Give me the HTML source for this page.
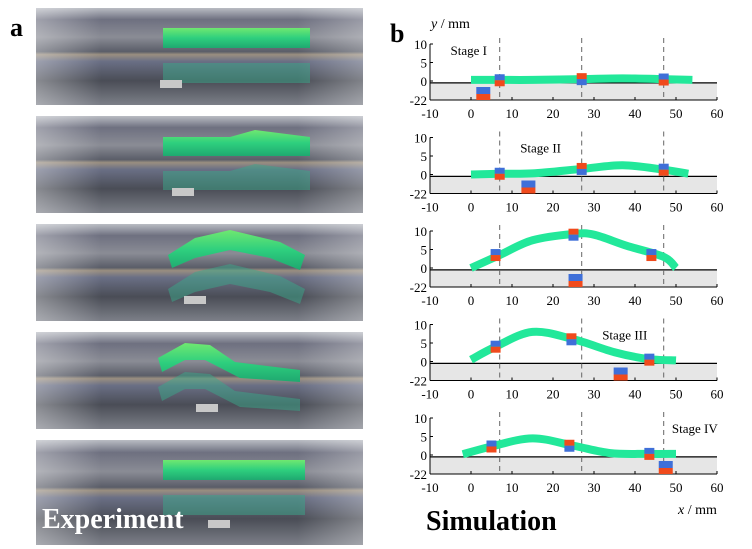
<!DOCTYPE html>
<html><head><meta charset="utf-8"><style>
body{margin:0;background:#fff;}
svg{display:block;font-family:"Liberation Serif",serif;}
</style></head><body>
<svg id="fig" width="752" height="549" viewBox="0 0 752 549">
<defs>
<linearGradient id="tube" x1="0" y1="0" x2="0" y2="1">
<stop offset="0" stop-color="#b9bcc3"/><stop offset="0.12" stop-color="#6e7080"/>
<stop offset="0.3" stop-color="#8a8c95"/><stop offset="0.45" stop-color="#5a5d68"/>
<stop offset="0.48" stop-color="#9a8f80"/><stop offset="0.55" stop-color="#6a6f85"/>
<stop offset="0.75" stop-color="#4a4d56"/><stop offset="1" stop-color="#7c7f88"/>
</linearGradient>
<linearGradient id="glare" x1="0" y1="0" x2="1" y2="0">
<stop offset="0" stop-color="#fff" stop-opacity="0.35"/><stop offset="0.2" stop-color="#fff" stop-opacity="0"/>
<stop offset="0.8" stop-color="#fff" stop-opacity="0"/><stop offset="1" stop-color="#fff" stop-opacity="0.3"/>
</linearGradient>
<linearGradient id="wormg" x1="0" y1="0" x2="0" y2="1">
<stop offset="0" stop-color="#6fe870"/><stop offset="0.5" stop-color="#2ecf7e"/><stop offset="1" stop-color="#1fa870"/>
</linearGradient>
</defs>
<text x="10" y="36" font-size="26" font-weight="bold">a</text>
<text x="390" y="42" font-size="26" font-weight="bold">b</text>
<g id="photos"></g>
<text x="42" y="528" font-size="28" font-weight="bold" fill="#fff">Experiment</text>
<text x="426" y="530" font-size="28" font-weight="bold">Simulation</text>
<text x="431" y="28" font-size="14"><tspan font-style="italic">y</tspan> / mm</text>
<text x="678" y="514" font-size="14"><tspan font-style="italic">x</tspan> / mm</text>
<g id="charts"></g>
</svg>
<script>
const NS='http://www.w3.org/2000/svg';
const xTicks=[-10,0,10,20,30,40,50,60];
const yTickLabels=['10','5','0','-22'];
const dashX=[7,27,47];
const stageLabels=['Stage I','Stage II','','Stage III','Stage IV'];
const stagePos=[[-5,7],[12,6],null,[32,6],[49,6]];
const curveX=[
[0,7,15,27,37,47,54],
[0,7,15,27,37,47,53],
[0,7,15,25,30,38,47,50],
[0,6,15,25,35,43,50],
[-2,5,15,25,34,43,50]];
const curveY=[
[0.3,0.3,0.3,0.5,0.7,0.5,0.3],
[0,0.2,0.3,1.5,2.5,1.3,0.2],
[0,3.5,7.5,9.2,9,6,3,0],
[0.5,4,8,6,2.5,0.7,0.3],
[0.2,2.3,4.5,2.5,0.5,0.3,0.3]];
const markX=[[7,27,47],[7,27,47],[6,25,44],[6,24.5,43.5],[5,24,43.5]];
const markY=[[0.2,0.5,0.4],[0.2,1.5,1.3],[3.5,9,3.5],[4,6,0.5],[2.3,2.5,0.3]];
const groundX=[3,14,25.5,36.5,47.5];

const charts=document.getElementById('charts');
function el(tag,attrs,parent){const e=document.createElementNS(NS,tag);for(const k in attrs)e.setAttribute(k,attrs[k]);(parent||charts).appendChild(e);return e;}
const xs=v=>471+v*4.1;
for(let p=0;p<5;p++){
  const top=44+p*93.5;
  const ys=v=>top+37-v*3.7;
  const zeroY=ys(-0.5), bot=top+56;
  const g=el('g',{});
  
  
  const band=el('rect',{x:xs(-10),y:zeroY,width:xs(60)-xs(-10),height:bot-zeroY,fill:'#e6e6e6'},g);
  
  el('line',{x1:xs(-10),y1:zeroY,x2:xs(60),y2:zeroY,stroke:'#000','stroke-width':1.2},g);
  el('line',{x1:xs(-10),y1:top,x2:xs(-10),y2:bot,stroke:'#000','stroke-width':1},g);
  el('line',{x1:xs(-10),y1:bot,x2:xs(60),y2:bot,stroke:'#000','stroke-width':1},g);
  const tyv=[top,top+18.5,top+37,bot];
  yTickLabels.forEach((t,i)=>{
    el('line',{x1:xs(-10),y1:tyv[i],x2:xs(-10)+3,y2:tyv[i],stroke:'#000'},g);
    const tx=el('text',{x:xs(-10)-3,y:tyv[i]+5,'font-size':13,'text-anchor':'end'},g);tx.textContent=t;
    
  });
  xTicks.forEach(t=>{
    el('line',{x1:xs(t),y1:bot,x2:xs(t),y2:bot-3,stroke:'#000'},g);
    const tx=el('text',{x:xs(t),y:bot+18,'font-size':13,'text-anchor':'middle'},g);tx.textContent=t;
    
  });
  dashX.forEach(d=>{const l=el('line',{x1:xs(d),y1:top-6,x2:xs(d),y2:bot,stroke:'#666','stroke-dasharray':'5,4','stroke-width':1},g);
    });
  const pts=curveX[p].map((x,i)=>[xs(x),ys(curveY[p][i])]);
  let d='M'+pts[0][0]+','+pts[0][1];
  for(let i=0;i<pts.length-1;i++){const p0=pts[Math.max(0,i-1)],p1=pts[i],p2=pts[i+1],p3=pts[Math.min(pts.length-1,i+2)];
    d+=` C${p1[0]+(p2[0]-p0[0])/6},${p1[1]+(p2[1]-p0[1])/6} ${p2[0]-(p3[0]-p1[0])/6},${p2[1]-(p3[1]-p1[1])/6} ${p2[0]},${p2[1]}`;}
  const c=el('path',{d:d,fill:'none',stroke:'#22e89a','stroke-width':8},g);
  
  markX[p].forEach((mx,i)=>{
    const cx=xs(mx),cy=ys(markY[p][i]);
    const topC=i===1?'#f04a1c':'#3f6fd8',botC=i===1?'#3f6fd8':'#f04a1c';
    const m=el('g',{},g);
    el('rect',{x:cx-5,y:cy-6,width:10,height:6,fill:topC},m);
    el('rect',{x:cx-5,y:cy,width:10,height:6,fill:botC},m);
  });
  const gx=xs(groundX[p]);
  const gm=el('g',{},g);
  el('rect',{x:gx-7,y:bot-13,width:14,height:7,fill:'#3f6fd8'},gm);
  el('rect',{x:gx-7,y:bot-6,width:14,height:6,fill:'#f04a1c'},gm);
  if(stageLabels[p]){const s=el('text',{x:xs(stagePos[p][0]),y:ys(stagePos[p][1]),'font-size':13},g);s.textContent=stageLabels[p];
    }
}
const photos=document.getElementById('photos');
const worm=[
[[163,28],[310,28],[310,48],[163,48]],
[[163,137],[230,137],[255,130],[310,137],[310,156],[163,156]],
[[168,255],[195,238],[230,230],[280,242],[305,255],[300,270],[270,258],[230,250],[195,258],[172,268]],
[[158,358],[185,343],[210,345],[235,362],[300,370],[300,382],[240,378],[205,360],[185,360],[162,372]],
[[163,460],[305,460],[305,480],[163,480]]];
for(let i=0;i<5;i++){
  const y=8+i*108,h=i===4?105:97;
  const g=document.createElementNS(NS,'g');photos.appendChild(g);
  
  
  el('rect',{x:36,y:y,width:327,height:h,fill:'url(#tube)'},g);
  el('rect',{x:36,y:y,width:327,height:h,fill:'url(#glare)'},g);
  el('polygon',{points:worm[i].map(p=>p.join(',')).join(' '),fill:'url(#wormg)'},g);
  el('polygon',{points:worm[i].map(p=>[p[0],p[1]+(y+50-worm[i][0][1])+(i===2?15:5)].join(',')).join(' '),fill:'#3aa88a',opacity:0.5},g);
  el('rect',{x:160+i*12,y:y+h-25,width:22,height:8,fill:'#c8c8c8'},g);
}
</script>
</body></html>
